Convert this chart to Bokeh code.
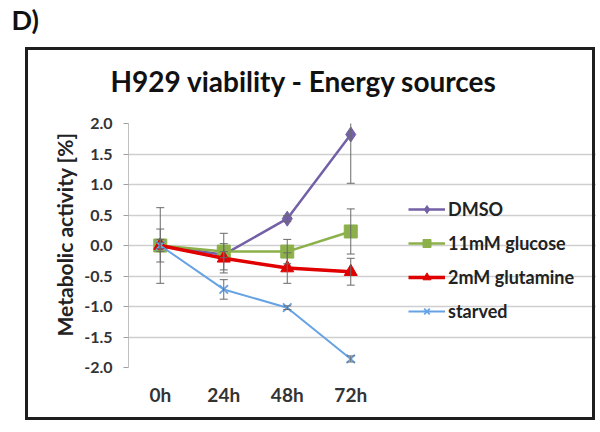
from bokeh.plotting import figure
from bokeh.models import (ColumnDataSource, Range1d, FixedTicker, NumeralTickFormatter,
                          Legend, LegendItem, Whisker, TeeHead, Title, InlineStyleSheet)
from bokeh.embed import file_html
from bokeh.resources import INLINE

# ---- data ----
times = ["0h", "24h", "48h", "72h"]
dmso = [0.0, -0.15, 0.44, 1.82]
dmso_err = [0.62, 0.05, 0.05, 0.8]
glucose = [0.0, -0.1, -0.1, 0.23]
glucose_err = [0.27, 0.3, 0.2, 0.37]
glutamine = [0.0, -0.21, -0.37, -0.43]
glutamine_err = [0.1, 0.24, 0.25, 0.22]
starved = [0.0, -0.72, -1.02, -1.86]
starved_err = [0.05, 0.16, 0.03, 0.05]
y_ticks = [-2.0, -1.5, -1.0, -0.5, 0.0, 0.5, 1.0, 1.5, 2.0]

FONT = "Lato"
W, H = 596, 428
LEFT, TOP, BOTTOM = 128, 123, 367
xpos = list(range(len(times)))
px_per_cat = 63.5
x_end = -0.5 + (W - LEFT) / px_per_cat

p = figure(width=W, height=H, x_range=Range1d(-0.5, x_end), y_range=Range1d(-2.0, 2.0),
           output_backend="svg", toolbar_location=None,
           min_border_left=LEFT, min_border_right=0, min_border_top=TOP, min_border_bottom=H - BOTTOM)
p.outline_line_color = None
p.background_fill_color = "white"
p.border_fill_color = "white"
p.title = None

# outer box drawn as an overlay on the figure's host element
p.stylesheets = [InlineStyleSheet(css="""
:host { position: relative; }
:host::after { content: ""; position: absolute; left: 25px; top: 47px; width: 564px; height: 367px;
  border: 3px solid #1e1e1e; pointer-events: none; box-sizing: content-box; }
""")]

# axes
p.yaxis.ticker = FixedTicker(ticks=y_ticks)
p.yaxis.formatter = NumeralTickFormatter(format="0.0")
p.yaxis.axis_line_color = "#C0C0C0"
p.yaxis.major_tick_line_color = "#A0A0A0"
p.yaxis.major_tick_out = 5
p.yaxis.major_tick_in = 0
p.yaxis.minor_tick_line_color = None
p.yaxis.major_label_text_font = FONT
p.yaxis.major_label_text_font_style = "bold"
p.yaxis.major_label_text_font_size = "16px"
p.yaxis.major_label_text_color = "#333333"
p.yaxis.major_label_standoff = 11

p.xaxis.ticker = FixedTicker(ticks=xpos)
p.xaxis.major_label_overrides = {i: t for i, t in zip(xpos, times)}
p.xaxis.axis_line_color = None
p.xaxis.major_tick_line_color = None
p.xaxis.minor_tick_line_color = None
p.xaxis.major_label_text_font = FONT
p.xaxis.major_label_text_font_style = "bold"
p.xaxis.major_label_text_font_size = "19px"
p.xaxis.major_label_text_color = "#333333"
p.xaxis.major_label_standoff = 9

p.xgrid.grid_line_color = None
p.ygrid.ticker = FixedTicker(ticks=y_ticks)
p.ygrid.grid_line_color = "#CFCFCF"
p.ygrid.grid_line_width = 1.6
p.ygrid.bounds = (-0.5, len(times) - 0.5)

series = [
    ("DMSO", dmso, dmso_err, "#7460A6", "diamond", 15, 2.5),
    ("11mM glucose", glucose, glucose_err, "#8CB04A", "square", 13, 2.5),
    ("2mM glutamine", glutamine, glutamine_err, "#E00000", "triangle", 13, 3.5),
    ("starved", starved, starved_err, "#67A3E4", "x", 12, 2.0),
]

# error bars first
for name, vals, errs, color, marker, size, lw in series:
    src = ColumnDataSource(dict(x=xpos, upper=[v + e for v, e in zip(vals, errs)],
                                lower=[v - e for v, e in zip(vals, errs)]))
    w = Whisker(source=src, base="x", upper="upper", lower="lower", line_color="#6A6A6A", line_width=1,
                upper_head=TeeHead(size=8, line_color="#6A6A6A", line_width=1),
                lower_head=TeeHead(size=8, line_color="#6A6A6A", line_width=1), level="glyph")
    p.add_layout(w)

items = []
for name, vals, errs, color, marker, size, lw in series:
    src = ColumnDataSource(dict(x=xpos, y=vals))
    lr = p.line("x", "y", source=src, line_color=color, line_width=lw)
    if marker == "x":
        sr = p.scatter("x", "y", source=src, marker=marker, size=size, line_color=color, line_width=1.8)
    else:
        sr = p.scatter("x", "y", source=src, marker=marker, size=size, fill_color=color, line_color=color)
    items.append(LegendItem(label=name, renderers=[lr, sr]))

legend = Legend(items=items, location=(280, 45), orientation="vertical",
                glyph_width=37, glyph_height=20, label_height=20, spacing=12,
                label_standoff=3, padding=0, margin=0,
                border_line_color=None, background_fill_alpha=0,
                label_text_font=FONT, label_text_font_style="bold", label_text_font_size="18px",
                label_text_color="#222222")
p.add_layout(legend)

# y axis title (side title so it can sit slightly above centre, as in the original)
p.add_layout(Title(text="Metabolic activity [%]", align="right", offset=9, standoff=10,
                   text_font=FONT, text_font_style="bold", text_font_size="21px", text_color="#222222"),
             "left")

# chart title and panel letter
p.add_layout(Title(text="H929 viability - Energy sources", align="left", offset=-18, standoff=52,
                   text_font=FONT, text_font_style="bold", text_font_size="28px", text_color="#111111"),
             "above")
p.add_layout(Title(text="D)", align="left", offset=-117, standoff=0,
                   text_font=FONT, text_font_style="bold", text_font_size="27px", text_color="#111111"),
             "above")

open("out.html", "w").write(file_html(p, INLINE))
